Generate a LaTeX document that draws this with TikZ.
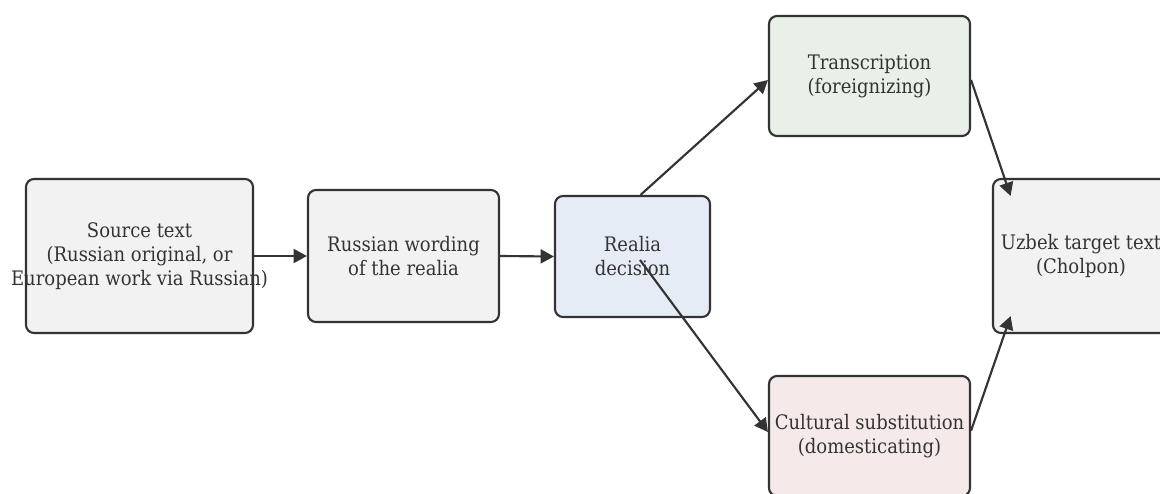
\documentclass[tikz,border=0pt]{standalone}
\usepackage{fontspec}
\setmainfont{DejaVu Serif Condensed}
\usetikzlibrary{arrows.meta}
\definecolor{edgegray}{HTML}{333333}
\definecolor{plainfill}{HTML}{F2F2F2}
\definecolor{decidefill}{HTML}{E6ECF6}
\definecolor{foreignfill}{HTML}{E8F0E8}
\definecolor{domesticfill}{HTML}{F5E9E9}
\begin{document}
\begin{tikzpicture}[x=0.75pt,y=-0.75pt,
    stage/.style={draw=edgegray, line width=1.6pt, rounded corners=6pt, inner sep=0pt},
    caption/.style={text=edgegray, align=center, font=\fontsize{15}{18}\selectfont, inner sep=0pt},
    link/.style={draw=edgegray, line width=1.6pt, -{Triangle[length=10pt,width=10.5pt]}}]
    \useasboundingbox (0,0) rectangle (1160,493);
    % boxes
    \node[stage, fill=plainfill, minimum width=170.25pt, minimum height=115.5pt] (source) at (139.5,256) {};
    \node[stage, fill=plainfill, minimum width=143.25pt, minimum height=99pt] (wording) at (403.5,256) {};
    \node[stage, fill=decidefill, minimum width=116.25pt, minimum height=90.75pt] (realia) at (632.5,256.5) {};
    \node[stage, fill=foreignfill, minimum width=150.75pt, minimum height=90pt] (transcr) at (869.5,76) {};
    \node[stage, fill=domesticfill, minimum width=150.75pt, minimum height=90pt] (subst) at (869.5,436) {};
    \node[stage, fill=plainfill, minimum width=132pt, minimum height=115.5pt] (target) at (1081,256) {};
    % texts
    \node[caption] (source-t) at (source) {Source text\\(Russian original, or\\European work via Russian)};
    \node[caption] (wording-t) at (wording) {Russian wording\\of the realia};
    \node[caption] (realia-t) at (realia) {Realia\\decision};
    \node[caption] (transcr-t) at (transcr) {Transcription\\(foreignizing)};
    \node[caption] (subst-t) at (subst) {Cultural substitution\\(domesticating)};
    \node[caption] (target-t) at (target) {Uzbek target text\\(Cholpon)};
    % arrows
    \draw[link] (source.east) -- (wording.west);
    \draw[link] (wording.east) -- (realia.west);
    \draw[link] ([xshift=6pt]realia.north) -- ([yshift=-3pt]transcr.west);
    \draw[link] ([xshift=5.6pt,yshift=-2.6pt]realia.center) -- ([yshift=3pt]subst.west);
    \draw[link] ([yshift=-3pt]transcr.east) -- ([xshift=14pt,yshift=-13.5pt]target.north west);
    \draw[link] ([yshift=4pt]subst.east) -- ([xshift=14pt,yshift=13.5pt]target.south west);
\end{tikzpicture}
\end{document}
